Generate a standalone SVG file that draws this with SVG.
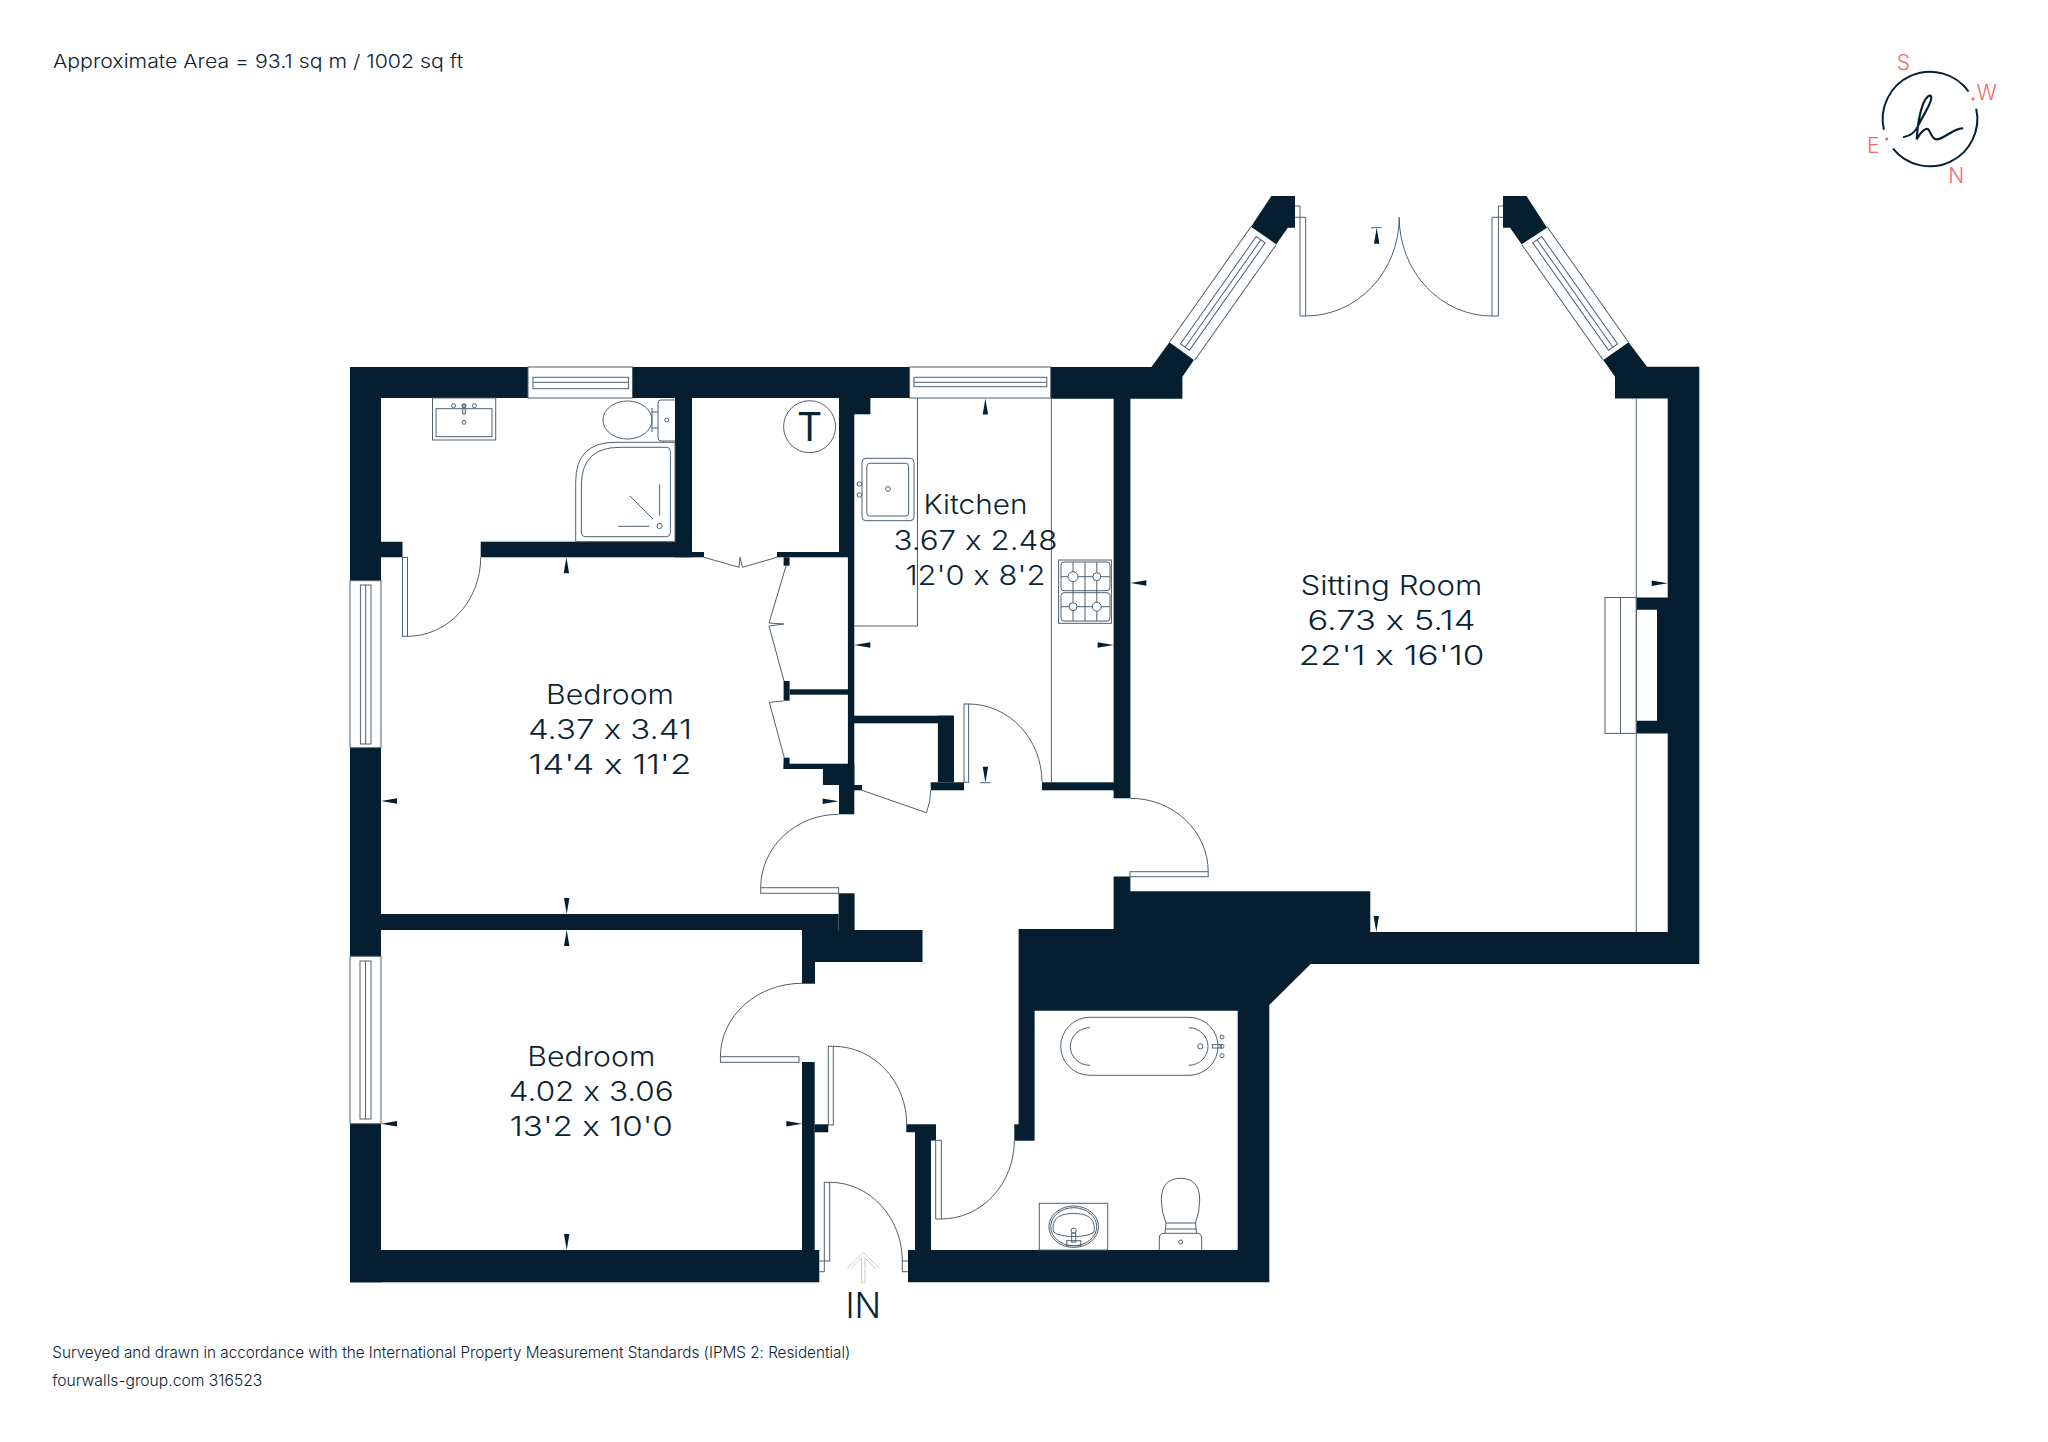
<svg xmlns="http://www.w3.org/2000/svg" xmlns:xlink="http://www.w3.org/1999/xlink" width="2048" height="1442" viewBox="0 0 2048 1442">
<style>
.w{fill:#051f30}
.l{fill:none;stroke:#4f616e;stroke-width:1}
.f{fill:#fff;stroke:#4f616e;stroke-width:1}
text{font-family:"Inter","Liberation Sans",sans-serif;font-weight:300;font-feature-settings:"calt" 0}
.t{fill:#0a2333;text-anchor:middle}
.r{font-size:27px}
.s{fill:#0a2333}
.c{fill:#f26b6b;font-size:21px;text-anchor:middle}
</style>
<defs>
<path id="m" class="w" d="M0,0 L16,-2.7 L16,2.7Z"/>
</defs>
<rect width="2048" height="1442" fill="#fff"/>
<g id="walls">
<path class="w" d="M350,367 H528 V398 H381 V541.7 H402.5 V557.3 H381 V580.7 H350Z"/>
<rect class="w" x="350" y="747.7" width="31" height="208.6"/>
<rect class="w" x="350" y="1123.7" width="31" height="158.6"/>
<rect class="w" x="381" y="914" width="457.6" height="16"/>
<rect class="w" x="350" y="1250" width="469.3" height="32.3"/>
<path class="w" d="M632.5,367 H909.6 V398 H632.5Z"/>
<path class="w" d="M1050.7,367 H1151.4 L1169.4,342.3 L1193.9,360 L1182.4,376.7 V398.7 H1050.7Z"/>
<path class="w" d="M1271.4,196 H1295 V227.7 H1287.8 L1276.3,244.3 L1251,226.7Z"/>
<path class="w" d="M1503,196 H1526.5 L1547,227.7 L1521.6,244.3 L1510,227.7 H1503Z"/>
<path class="w" d="M1628.6,342.3 L1647,366.7 H1699.3 V964 H1310.7 L1269.3,1005 V1282.3 H908 V1250 H915 V1132.3 H906.3 V1124.3 H1018.6 V929 H1113.6 V876.6 H1130.4 V891.3 H1370.3 V932 H1667.7 V733.4 H1636.3 V720.8 H1657 V609.7 H1636.3 V597.5 H1667.7 V398.5 H1615 V376.7 L1603.3,360Z M931,1250 H1237.7 V1010.7 H1034.6 V1140.7 H1014.3 V1124.3 H936 V1140.3 H931Z" fill-rule="evenodd"/>
<rect class="w" x="675" y="398" width="17" height="159.3"/>
<rect class="w" x="480.7" y="541.7" width="211" height="15.6"/>
<rect class="w" x="692" y="552" width="12" height="5.3"/>
<rect class="w" x="777" y="552" width="62" height="5.3"/>
<rect class="w" x="839" y="398" width="15.3" height="159.3"/>
<rect class="w" x="854" y="398" width="16.4" height="16.3"/>
<rect class="w" x="847.9" y="557" width="6.4" height="228"/>
<rect class="w" x="783.6" y="557.3" width="6" height="8.4"/>
<rect class="w" x="783.6" y="681" width="6" height="19.7"/>
<rect class="w" x="789.6" y="689.3" width="58.4" height="5.4"/>
<rect class="w" x="783.6" y="757.7" width="6" height="11.3"/>
<rect class="w" x="783.6" y="763.7" width="70.7" height="5.3"/>
<rect class="w" x="822.9" y="769" width="31.4" height="16"/>
<rect class="w" x="839" y="785" width="15.3" height="29.3"/>
<rect class="w" x="854" y="785" width="8" height="5.3"/>
<rect class="w" x="854" y="715.7" width="100" height="7.6"/>
<rect class="w" x="937.9" y="715.7" width="16.1" height="66.6"/>
<rect class="w" x="930.7" y="782.3" width="33.3" height="8"/>
<rect class="w" x="1042" y="782.3" width="72" height="8"/>
<rect class="w" x="1113.6" y="398" width="16.8" height="400.3"/>
<rect class="w" x="838.6" y="893.3" width="16" height="37"/>
<rect class="w" x="802" y="930" width="120.5" height="32"/>
<rect class="w" x="802" y="962" width="13" height="21.7"/>
<rect class="w" x="802" y="1062" width="12.7" height="190"/>
<rect class="w" x="814.7" y="1124.3" width="13.6" height="8"/>
</g>
<g id="windows">
<rect class="f" x="528" y="367" width="104.5" height="31"/><rect class="l" x="533" y="377.3" width="95.6" height="11.4"/><path class="l" d="M533,382.3H628.6"/>
<rect class="f" x="909.6" y="367" width="141.1" height="31"/><rect class="l" x="914" y="377.3" width="132.8" height="9.4"/><path class="l" d="M914,382.3H1046.8"/>
<rect class="f" x="350" y="580.7" width="31" height="167"/><rect class="l" x="360.4" y="585" width="10.6" height="159"/><path class="l" d="M365.7,585V744"/>
<rect class="f" x="350" y="956.3" width="31" height="167.4"/><rect class="l" x="360" y="961" width="11" height="158"/><path class="l" d="M365.5,961V1119"/>
<g transform="translate(1169.4,342.3) rotate(-54.8)"><path class="l" d="M0,0H141.5M0,31H141.5"/><rect class="l" x="5" y="10" width="131.5" height="11"/><path class="l" d="M5,15.7H136.5"/></g>
<g transform="translate(1628.6,342.3) scale(-1,1) rotate(-54.8)"><path class="l" d="M0,0H141.5M0,31H141.5"/><rect class="l" x="5" y="10" width="131.5" height="11"/><path class="l" d="M5,15.7H136.5"/></g>
</g>
<g id="doors">
<rect class="l" x="402.5" y="557.3" width="5" height="79"/><path class="l" d="M407.5,636.3 A73.2,79 0 0 0 480.7,557.3"/>
<path class="l" d="M1295,206H1300V217.3M1295,217.3H1305.7V316H1300V217.3"/><path class="l" d="M1305.7,316 A93.5,98.7 0 0 0 1399.2,217.3"/>
<path class="l" d="M1503,206H1498.4V217.3M1503,217.3H1492V316H1498.4V217.3"/><path class="l" d="M1492,316 A92.8,98.7 0 0 1 1399.2,217.3"/>
<path class="l" d="M704,557.3 L739,567.3 L740,557.3 L742.5,567.3 L777,557.3"/>
<path class="l" d="M786,566 L769,623 L784,624 L769,626 L784,681"/>
<path class="l" d="M783.6,701 L769.3,702.3 L784.3,757.7"/>
<path class="l" d="M862,790.3 L926.4,812.7 A60,60 0 0 0 930.7,790.3"/>
<rect class="l" x="964" y="704" width="4.6" height="78.3"/><path class="l" d="M968.6,704 A73.4,78.3 0 0 1 1042,782.3"/>
<rect class="f" x="760.7" y="887.7" width="77.9" height="5.6"/><path class="l" d="M760.7,887.7 A77.9,73.4 0 0 1 838.6,814.3"/>
<rect class="f" x="1130" y="871.7" width="78.2" height="5"/><path class="l" d="M1130.4,798.3 A77.8,73.4 0 0 1 1208.2,871.7"/>
<rect class="f" x="720.4" y="1056.7" width="78.6" height="5.6"/><path class="l" d="M720.4,1056.7 A81.6,73.4 0 0 1 802,983.3"/>
<rect class="l" x="828.3" y="1046.3" width="5" height="78.7"/><path class="l" d="M833.3,1046.3 A73.4,78 0 0 1 906.7,1124.3"/>
<path class="l" d="M931,1140.3H941.3V1219H935.7V1140.3"/><path class="l" d="M941.3,1219 A73,78.3 0 0 0 1014.3,1140.7"/>
<rect class="l" x="824.3" y="1182.3" width="5.4" height="78.7"/><path class="l" d="M819.3,1261H824.3V1271.7H819.3"/><path class="l" d="M829.7,1182.3 A72.6,78.7 0 0 1 902.3,1261"/>
<path class="l" d="M908,1261H902.3V1271.7H908"/>
<path fill="none" stroke="#c9ced2" stroke-width="1" d="M847.3,1268.3 L863.3,1252.3 L879.3,1268.3 M851,1268.3 L861.5,1258 V1282.7 H865 V1258 L875.6,1268.3"/>
</g>
<g id="kitchen">
<path class="l" d="M1051.4,398V782.3M917.5,398V626H854.3"/>
<rect class="l" x="862" y="458.3" width="52" height="62.4" rx="4"/>
<rect class="l" x="866.8" y="463.3" width="41.8" height="52.7" rx="3"/>
<circle class="l" cx="888" cy="489" r="2.4"/><circle class="l" cx="859.3" cy="484" r="2.2"/><circle class="l" cx="859.3" cy="495" r="2.2"/>
<rect class="l" x="1058.6" y="560" width="52.8" height="63.3"/>
<rect class="l" x="1061" y="562" width="49" height="28.7" rx="3"/>
<rect class="l" x="1061" y="592.7" width="49" height="28.3" rx="3"/>
<path class="l" d="M1061,576.7H1110M1061,606.7H1110M1073,562V621M1085,562V621M1096.8,562V621"/>
<circle class="f" cx="1073" cy="576.7" r="5"/><circle class="f" cx="1096.8" cy="576.7" r="4"/><circle class="f" cx="1073" cy="606.7" r="4"/><circle class="f" cx="1096.8" cy="606.7" r="4.5"/>
</g>
<g id="ensuite">
<rect class="l" x="432.5" y="398" width="63.2" height="42"/><rect class="l" x="436" y="408.7" width="56" height="28"/>
<circle class="l" cx="453.6" cy="405.7" r="2"/><circle class="l" cx="464" cy="405.7" r="2"/><circle class="l" cx="474.3" cy="405.7" r="2"/><circle class="l" cx="464" cy="422.3" r="2"/><rect class="l" x="462.8" y="405" width="2.4" height="9"/>
<ellipse class="l" cx="627.5" cy="420" rx="24.5" ry="19"/>
<path class="l" d="M652,412H658M652,428H658M652,408V432"/>
<path class="l" d="M675,400H661Q658,400 658,403V438Q658,441 661,441H675"/><circle class="l" cx="666.8" cy="420" r="2"/>
<path class="l" d="M575.7,541.7V482Q575.7,442.3 615,442.3H675V541.7Z"/>
<path class="l" d="M581.4,532V485Q581.4,447.3 620,447.3H666.4Q670.4,447.3 670.4,451.3V532.7Q670.4,536.7 666.4,536.7H586Q581.4,536.7 581.4,532Z"/>
<path class="l" d="M659.6,484.3V515.7M617.9,526.3H649.3M630,496L652.9,519"/><circle class="l" cx="659.6" cy="526" r="2.6" stroke-width="1.4"/>
<circle class="l" cx="809.6" cy="426.7" r="26"/>
<text class="t" x="809.6" y="441" font-size="39" style="font-weight:400">T</text>
</g>
<g id="bathroom">
<rect class="l" x="1060.7" y="1017.3" width="157.3" height="58" rx="29"/>
<path class="l" d="M1090,1027.7A19.7,18.8 0 0 0 1090,1065.3M1188.7,1027.7A19.3,18.8 0 0 1 1188.7,1065.3"/>
<circle class="l" cx="1200.3" cy="1046.3" r="2.6" stroke-width="1.6"/>
<circle class="l" cx="1222" cy="1037" r="2"/><circle class="l" cx="1222" cy="1046.3" r="2"/><circle class="l" cx="1222" cy="1055.7" r="2"/><rect class="l" x="1212.3" y="1044.6" width="9" height="3.4"/>
<path class="l" d="M1166,1223 Q1161.3,1212 1161.3,1200 Q1161.5,1178.3 1180.7,1178.3 Q1199.7,1178.3 1199.7,1200 Q1199.7,1212 1195.5,1223 L1196.5,1233M1166,1223 L1165,1233M1166,1223H1195.5M1165,1229H1196.5"/>
<path class="l" d="M1159.3,1250V1238Q1159.3,1233.3 1164,1233.3H1197Q1201.7,1233.3 1201.7,1238V1250"/><circle class="l" cx="1180.7" cy="1242" r="2"/>
<rect class="l" x="1039.3" y="1203.3" width="68.4" height="46.7"/>
<ellipse class="l" cx="1073.7" cy="1226.7" rx="24.8" ry="20.7"/><ellipse class="l" cx="1073.7" cy="1226.7" rx="23" ry="19"/>
<path class="l" d="M1053.5,1232 C1051,1218 1060,1213.5 1073.7,1213.5 C1087,1213.5 1096,1218 1094,1232 C1088,1238 1060,1238 1053.5,1232Z"/>
<circle class="l" cx="1073.7" cy="1230.7" r="2.6"/><rect class="l" x="1071.7" y="1233" width="4" height="9"/><rect class="l" x="1066.7" y="1240.7" width="14" height="5"/>
</g>
<g id="sitting-room">
<path class="l" d="M1636.3,398.5V932"/>
<rect class="l" x="1605" y="597.5" width="31.3" height="135.9"/><path class="l" d="M1620.5,597.5V733.4"/>
</g>
<g id="markers">
<use xlink:href="#m" transform="translate(566.4,557.3) rotate(90)"/>
<use xlink:href="#m" transform="translate(381,801)"/>
<use xlink:href="#m" transform="translate(838.6,801.3) rotate(180)"/>
<use xlink:href="#m" transform="translate(566.7,914) rotate(-90)"/>
<use xlink:href="#m" transform="translate(566.7,930) rotate(90)"/>
<use xlink:href="#m" transform="translate(381,1123.7)"/>
<use xlink:href="#m" transform="translate(802.3,1123.7) rotate(180)"/>
<use xlink:href="#m" transform="translate(566.7,1250) rotate(-90)"/>
<use xlink:href="#m" transform="translate(985.4,398.5) rotate(90)"/>
<use xlink:href="#m" transform="translate(854.3,645)"/>
<use xlink:href="#m" transform="translate(1113.6,645) rotate(180)"/>
<use xlink:href="#m" transform="translate(985.4,782.7) rotate(-90)"/>
<path class="l" d="M980,782.7H990.7"/>
<use xlink:href="#m" transform="translate(1130.4,583)"/>
<use xlink:href="#m" transform="translate(1667.7,583.2) rotate(180)"/>
<use xlink:href="#m" transform="translate(1376.3,932) rotate(-90)"/>
<use xlink:href="#m" transform="translate(1376.7,227.7) rotate(90)"/>
<path class="l" d="M1371,227.7H1381.7"/>
</g>
<g id="labels">
<text class="t r" x="610" y="704" textLength="128" lengthAdjust="spacingAndGlyphs">Bedroom</text>
<text class="t r" x="610" y="739" textLength="164" lengthAdjust="spacingAndGlyphs">4.37 x 3.41</text>
<text class="t r" x="610" y="774" textLength="163" lengthAdjust="spacingAndGlyphs">14'4 x 11'2</text>
<text class="t r" x="591.3" y="1065.7" textLength="128" lengthAdjust="spacingAndGlyphs">Bedroom</text>
<text class="t r" x="591.3" y="1101" textLength="165" lengthAdjust="spacingAndGlyphs">4.02 x 3.06</text>
<text class="t r" x="591.3" y="1136" textLength="163" lengthAdjust="spacingAndGlyphs">13'2 x 10'0</text>
<text class="t r" x="975.4" y="514" textLength="104" lengthAdjust="spacingAndGlyphs">Kitchen</text>
<text class="t r" x="975.4" y="550" textLength="164" lengthAdjust="spacingAndGlyphs">3.67 x 2.48</text>
<text class="t r" x="975.4" y="585" textLength="140" lengthAdjust="spacingAndGlyphs">12'0 x 8'2</text>
<text class="t r" x="1391.4" y="595" textLength="182" lengthAdjust="spacingAndGlyphs">Sitting Room</text>
<text class="t r" x="1391.4" y="630" textLength="168" lengthAdjust="spacingAndGlyphs">6.73 x 5.14</text>
<text class="t r" x="1391.4" y="665.3" textLength="186" lengthAdjust="spacingAndGlyphs">22'1 x 16'10</text>
<text class="t" x="863.3" y="1318.3" font-size="35">IN</text>
<text class="s" x="53" y="68.3" font-size="18.5" textLength="410" lengthAdjust="spacingAndGlyphs">Approximate Area = 93.1 sq m / 1002 sq ft</text>
<text class="s" x="52.3" y="1358.3" font-size="15.3" textLength="798" lengthAdjust="spacingAndGlyphs">Surveyed and drawn in accordance with the International Property Measurement Standards (IPMS 2: Residential)</text>
<text class="s" x="52.3" y="1386" font-size="15.3" textLength="210" lengthAdjust="spacingAndGlyphs">fourwalls-group.com 316523</text>
</g>
<g id="compass">
<path fill="none" stroke="#051f30" stroke-width="2" d="M1976.2,108.6 A47.4,47.4 0 0 1 1893,148.6 M1883.9,129.8 A47.4,47.4 0 0 1 1968.6,91.5"/>
<path fill="none" stroke="#051f30" stroke-width="6.5" stroke-linecap="round" transform="translate(1860,40) scale(0.3333)" d="M132,291 C150,288 165,280 178,250 C190,225 215,190 214,172 C212,160 198,170 190,190 C178,220 172,265 170,298 C180,280 195,262 205,268 C212,275 215,300 232,298 C255,295 280,265 307,265"/>
<circle cx="1973" cy="99" r="1.6" fill="#f26b6b"/><circle cx="1886.7" cy="139" r="1.6" fill="#f26b6b"/>
<text class="c" x="1903.3" y="70">S</text>
<text class="c" x="1986.7" y="100">W</text>
<text class="c" x="1873.3" y="152.7">E</text>
<text class="c" x="1956.3" y="183.3">N</text>
</g>
</svg>
